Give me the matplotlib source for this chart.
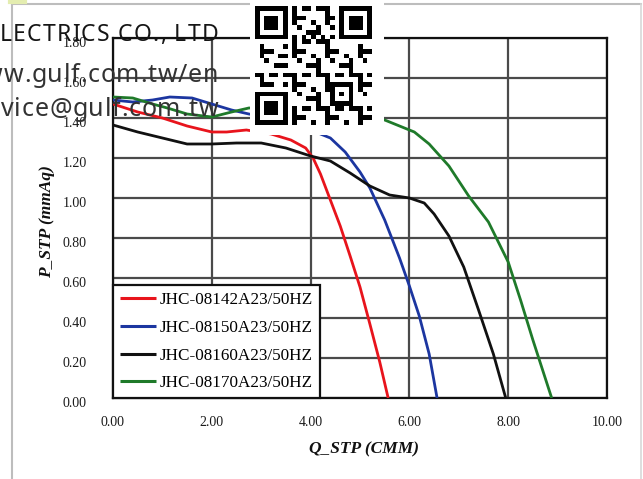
import numpy as np
import matplotlib
matplotlib.use("Agg")
import matplotlib.pyplot as plt
import matplotlib.transforms as mt
from matplotlib.lines import Line2D
from matplotlib.font_manager import findfont, FontProperties
from matplotlib.ft2font import FT2Font

# ---------------- data ----------------
labels = ["JHC-08142A23/50HZ", "JHC-08150A23/50HZ", "JHC-08160A23/50HZ", "JHC-08170A23/50HZ"]
colors = ["#e8141c", "#1c36a0", "#111111", "#1f7a2a"]

q_08142 = [0, 0.5, 1.0, 1.5, 2.0, 2.3, 2.7, 3.2, 3.6, 3.9, 4.05, 4.2, 4.4, 4.6, 4.8, 5.0, 5.2, 5.4, 5.57]
p_08142 = [1.47, 1.43, 1.40, 1.36, 1.33, 1.33, 1.34, 1.32, 1.29, 1.25, 1.20, 1.12, 0.99, 0.86, 0.71, 0.555, 0.37, 0.18, 0.0]

q_08150 = [0, 0.4, 0.8, 1.15, 1.6, 2.0, 2.4, 2.75, 3.2, 3.7, 4.1, 4.4, 4.7, 5.0, 5.2, 5.5, 5.8, 6.0, 6.2, 6.4, 6.56]
p_08150 = [1.49, 1.48, 1.49, 1.505, 1.50, 1.47, 1.44, 1.42, 1.40, 1.36, 1.33, 1.30, 1.23, 1.13, 1.05, 0.89, 0.70, 0.56, 0.41, 0.22, 0.0]

q_08160 = [0, 0.5, 1.0, 1.5, 2.0, 2.5, 3.0, 3.5, 4.0, 4.4, 4.8, 5.2, 5.6, 6.0, 6.3, 6.5, 6.8, 7.1, 7.4, 7.7, 7.95]
p_08160 = [1.365, 1.33, 1.30, 1.27, 1.27, 1.275, 1.275, 1.25, 1.21, 1.185, 1.125, 1.06, 1.015, 1.00, 0.975, 0.92, 0.81, 0.655, 0.44, 0.22, 0.0]

q_08170 = [0, 0.4, 0.8, 1.1, 1.5, 2.0, 2.4, 2.75, 3.5, 4.5, 5.2, 5.5, 5.8, 6.1, 6.4, 6.8, 7.2, 7.6, 8.0, 8.25, 8.5, 8.88]
p_08170 = [1.505, 1.50, 1.47, 1.45, 1.42, 1.405, 1.43, 1.45, 1.45, 1.43, 1.405, 1.39, 1.36, 1.33, 1.27, 1.16, 1.01, 0.88, 0.68, 0.49, 0.29, 0.0]

xticks = [0, 2, 4, 6, 8, 10]
yticks = [0, 0.2, 0.4, 0.6, 0.8, 1.0, 1.2, 1.4, 1.6, 1.8]

watermark = ["GULF ELECTRICS CO., LTD", "www.gulf.com.tw/en", "service@gulf.com.tw"]

# ---------------- figure ----------------
W, H = 643, 479
fig = plt.figure(figsize=(W / 100, H / 100), dpi=100)
fig.patch.set_facecolor("white")

def fx(px):
    return px / W

def fy(py):
    return 1 - py / H

ax = fig.add_axes([fx(113), fy(398), fx(607) - fx(113), fy(38) - fy(398)])
serif = "Liberation Serif"

series = [(q_08142, p_08142), (q_08150, p_08150), (q_08160, p_08160), (q_08170, p_08170)]
for (q, p), lab, c in zip(series, labels, colors):
    ax.plot(q, p, color=c, lw=2.0, label=lab, solid_capstyle="butt", zorder=3)

ax.set_xlim(0, 10)
ax.set_ylim(0, 1.8)
ax.set_xticks(xticks)
ax.set_yticks(yticks)
ax.set_xticklabels([f"{v:.2f}" for v in xticks], family=serif, fontsize=10, color="#1a1a1a")
ax.set_yticklabels([f"{v:.2f}" for v in yticks], family=serif, fontsize=10, color="#1a1a1a")
ax.tick_params(axis="both", length=0)
ax.tick_params(axis="y", pad=19)
ax.tick_params(axis="x", pad=13)
ax.grid(True, color="#4a4a4a", lw=1.6, zorder=1)
for s in ax.spines.values():
    s.set_color("#111111")
    s.set_linewidth(1.6)

off = mt.ScaledTranslation(0, -4 / 100, fig.dpi_scale_trans)
for lbl in ax.get_yticklabels():
    lbl.set_transform(lbl.get_transform() + off)

ax.set_xlabel("Q_STP (CMM)", family=serif, fontsize=12.5, fontweight="bold", style="italic", color="#111111")
ax.set_ylabel("P_STP (mmAq)", family=serif, fontsize=12.5, fontweight="bold", style="italic", color="#111111")
ax.xaxis.set_label_coords(0.508, -0.12)
ax.yaxis.set_label_coords(-0.118, 0.49)

leg = ax.legend(loc="lower left", bbox_to_anchor=(0, 0), borderaxespad=0,
                prop={"family": serif, "size": 12.3}, frameon=True, fancybox=False,
                handlelength=2.1, handletextpad=0.25, labelspacing=0.68, borderpad=0.4)
leg.get_frame().set_edgecolor("#111111")
leg.get_frame().set_linewidth(1.6)
leg.get_frame().set_alpha(1)
for h in leg.get_lines():
    h.set_linewidth(2.2)
leg.set_zorder(5)

# ---------------- decorations: frame ----------------
fig.add_artist(Line2D([fx(12), fx(641)], [fy(4), fy(4)], color="#bdbdbd", lw=1.5))
fig.add_artist(Line2D([fx(12), fx(12)], [fy(4), 0], color="#bdbdbd", lw=1.5))
fig.add_artist(Line2D([fx(641), fx(641)], [fy(4), 0], color="#d8d8d8", lw=1.2))
fig.add_artist(Line2D([fx(10), fx(25)], [fy(1.5), fy(1.5)], color="#e4edb0", lw=3))

# ---------------- watermark text (letter-spaced) ----------------
wm_font = "Noto Sans"
ft = FT2Font(findfont(FontProperties(family=wm_font)))

def adv(ch, size):
    ft.set_size(size, 100)
    g = ft.load_char(ord(ch))
    return g.linearHoriAdvance / 65536.0

def spacing_for(visible, width, size):
    nat = sum(adv(c, size) for c in visible)
    return (width - nat) / (len(visible) - 1)

def spaced_text(s, right_px, base_py, track, size, color):
    advs = [adv(c, size) for c in s]
    total = sum(advs) + track * (len(s) - 1)
    x = right_px - total
    for c, a in zip(s, advs):
        if c != " ":
            fig.text(fx(x), fy(base_py), c, family=wm_font, fontsize=size, color=color,
                     ha="left", va="baseline", zorder=10)
        x += a + track

size1 = 16.5
size2 = 18.0
track1 = spacing_for("LECTRICS CO., LTD", 218, size1)
track3 = spacing_for("vice@gulf.com.tw", 217, size2)
spaced_text(watermark[0], 218, 41, track1, size1, "#151515")
spaced_text(watermark[1], 218, 82, track3, size2, "#333333")
spaced_text(watermark[2], 218, 116, track3, size2, "#333333")

# ---------------- QR-like badge ----------------
n = 25
qr = np.zeros((n, n), dtype=int)
for i in range(n):
    for j in range(n):
        qr[i, j] = 1 if ((i * i * 3 + j * 7 + i * j * 5 + j * j) % 7) < 3 else 0

def finder(r, c):
    qr[max(r - 1, 0):r + 8, max(c - 1, 0):c + 8] = 0
    qr[r:r + 7, c:c + 7] = 1
    qr[r + 1:r + 6, c + 1:c + 6] = 0
    qr[r + 2:r + 5, c + 2:c + 5] = 1

finder(0, 0)
finder(0, n - 7)
finder(n - 7, 0)
qr[16:21, 16:21] = 1
qr[17:20, 17:20] = 0
qr[18, 18] = 1
for k in range(8, n - 8):
    qr[6, k] = 1 - k % 2
    qr[k, 6] = 1 - k % 2

bg = fig.add_axes([fx(250), fy(135), fx(384) - fx(250), fy(0) - fy(135)])
bg.set_facecolor("white")
bg.set_xticks([]); bg.set_yticks([])
for s in bg.spines.values():
    s.set_visible(False)
bg.set_zorder(20)
qa = fig.add_axes([fx(255), fy(125), fx(372) - fx(255), fy(6) - fy(125)])
qa.imshow(1 - qr, cmap="gray", interpolation="nearest", aspect="auto", vmin=0, vmax=1)
qa.axis("off")
qa.set_zorder(21)

fig.savefig("out.png", dpi=100, facecolor="white")
